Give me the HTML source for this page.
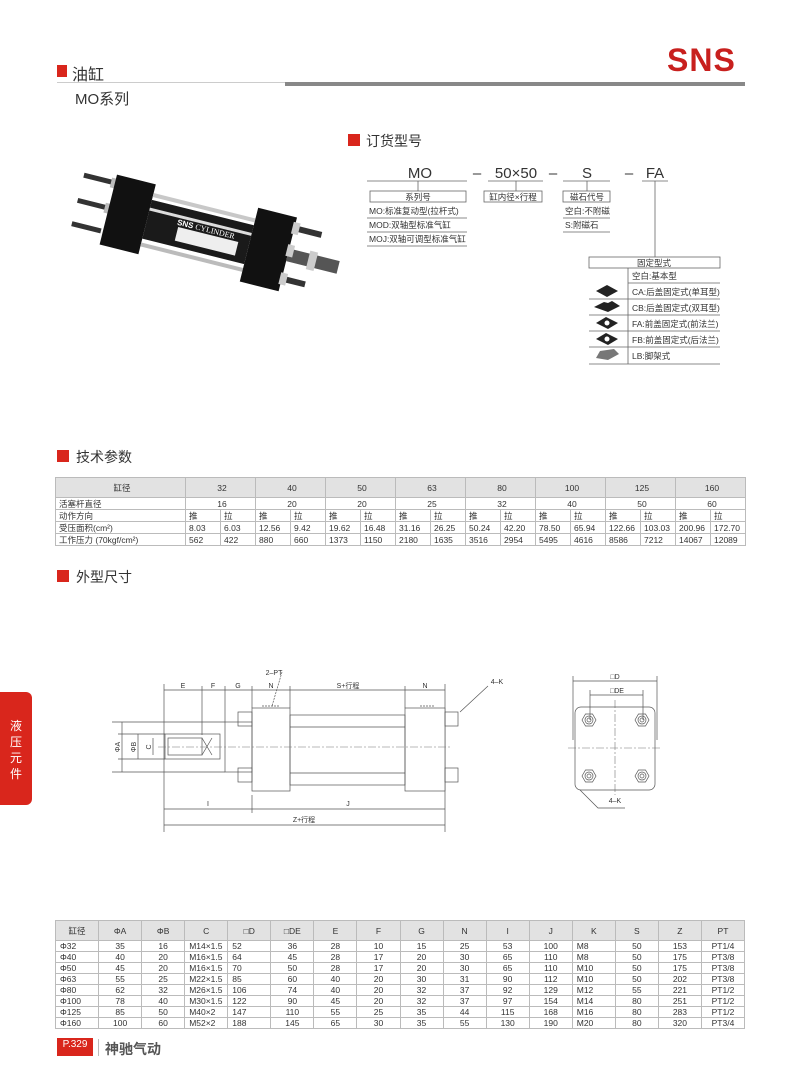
<!DOCTYPE html>
<html><head><meta charset="utf-8"><style>
*{margin:0;padding:0;box-sizing:border-box}
body{width:800px;height:1086px;background:#fff;position:relative;overflow:hidden;font-family:"Liberation Sans","Noto Sans CJK SC",sans-serif;color:#333}
.a{position:absolute;white-space:nowrap}
table{border-collapse:collapse;table-layout:fixed;position:absolute;font-size:8.5px;color:#333}
td{border:1px solid #bbb;padding:0 0 0 3px;line-height:10px;white-space:nowrap;overflow:hidden}
.t1 td{height:12px}
.t2 td{height:11px;text-align:center;padding:0}
.t2 td.l{text-align:left;padding-left:4px}
.hd td{background:#e2e2e2;height:20px;text-align:center}
.c{text-align:center}
</style></head><body>

<div class="a" style="left:57px;top:65px;width:10px;height:12px;background:#d9261c"></div>
<div class="a" style="left:72px;top:61px;font-size:16px;color:#333">油缸</div>
<div class="a" style="left:57px;top:82px;width:230px;height:1px;background:#ccc"></div>
<div class="a" style="left:285px;top:82px;width:460px;height:4px;background:#888"></div>
<div class="a" style="left:75px;top:88px;font-size:15px;color:#333">MO系列</div>
<div class="a" style="left:667px;top:42px;font-size:32px;font-weight:bold;color:#c8201e;letter-spacing:1px">SNS</div>

<div class="a" style="left:0;top:692px;width:32px;height:113px;background:#d9261c;border-radius:0 6px 6px 0"></div>
<div class="a" style="left:8px;top:718px;width:16px;font-size:12px;line-height:16px;color:#fff;white-space:normal;text-align:center">液压元件</div>

<div class="a" style="left:348px;top:134px;width:12px;height:12px;background:#d9261c"></div>
<div class="a" style="left:366px;top:131px;font-size:14px">订货型号</div>
<div class="a" style="left:57px;top:450px;width:12px;height:12px;background:#d9261c"></div>
<div class="a" style="left:76px;top:447px;font-size:14px">技术参数</div>
<div class="a" style="left:57px;top:570px;width:12px;height:12px;background:#d9261c"></div>
<div class="a" style="left:76px;top:567px;font-size:14px">外型尺寸</div>

<svg class="a" style="left:0;top:0" width="800" height="1086" viewBox="0 0 800 1086" font-family="Liberation Sans, Noto Sans CJK SC, sans-serif">
<g fill="#333" font-size="15" text-anchor="middle">
<text x="420" y="178">MO</text><text x="477" y="178">–</text>
<text x="516" y="178">50×50</text><text x="553" y="178">–</text>
<text x="587" y="178">S</text><text x="629" y="178">–</text>
<text x="655" y="178">FA</text></g>
<g stroke="#666" stroke-width="0.8" fill="none">
<path d="M367 181H467M488 181H543M563 181H610M642 181H668"/>
<path d="M418 181V191M516 181V191M587 181V191M655 181V257"/>
<rect x="370" y="191" width="96" height="11"/><rect x="484" y="191" width="58" height="11"/><rect x="563" y="191" width="47" height="11"/>
<path d="M367 218H467M367 232H467M367 246H467M563 218H610M563 232H610"/>
<rect x="589" y="257" width="131" height="11"/>
<path d="M628 268V364M628 283H720M589 299H720M589 315H720M589 331H720M589 347H720M589 364H720"/>
</g>
<g fill="#333" font-size="8.5">
<text x="418" y="200" text-anchor="middle">系列号</text>
<text x="513" y="200" text-anchor="middle">缸内径×行程</text>
<text x="587" y="200" text-anchor="middle">磁石代号</text>
<text x="369" y="214">MO:标准复动型(拉杆式)</text>
<text x="369" y="228">MOD:双轴型标准气缸</text>
<text x="369" y="242">MOJ:双轴可调型标准气缸</text>
<text x="565" y="214">空白:不附磁</text>
<text x="565" y="228">S:附磁石</text>
<text x="654" y="266" text-anchor="middle">固定型式</text>
<text x="632" y="279">空白:基本型</text>
<text x="632" y="295">CA:后盖固定式(单耳型)</text>
<text x="632" y="311">CB:后盖固定式(双耳型)</text>
<text x="632" y="327">FA:前盖固定式(前法兰)</text>
<text x="632" y="343">FB:前盖固定式(后法兰)</text>
<text x="632" y="359">LB:脚架式</text>
</g>
<g fill="#222">
<path d="M596 291L607 285L618 291L607 297Z"/>
<path d="M594 307L604 302L608 303L612 301L620 306L608 312Z"/>
<path d="M596 323L606 317L618 323L608 329Z"/><circle cx="607" cy="323" r="2.5" fill="#fff"/>
<path d="M596 339L606 333L618 339L608 345Z"/><circle cx="607" cy="339" r="2.5" fill="#fff"/>
<path d="M596 358L600 351L614 349L619 354L608 360Z" fill="#777"/>
</g>

<!-- photo -->
<g transform="translate(118,212) rotate(14)">
<rect x="-42" y="-30" width="30" height="5" fill="#333"/><rect x="-42" y="-4" width="30" height="5" fill="#333"/><rect x="-42" y="20" width="30" height="5" fill="#333"/>
<rect x="-14" y="-32" width="6" height="10" fill="#bbb"/><rect x="-14" y="-6" width="6" height="10" fill="#bbb"/>
<rect x="-10" y="-36" width="40" height="72" fill="#111"/>
<rect x="30" y="-20" width="105" height="40" fill="#1a1a1a"/>
<rect x="30" y="-27" width="105" height="4" fill="#c8c8c8"/><rect x="30" y="-12" width="105" height="3" fill="#ddd"/>
<rect x="30" y="24" width="105" height="4" fill="#bbb"/>
<rect x="62" y="0" width="62" height="14" fill="#eee"/>
<text x="60" y="-2" fill="#fff" font-size="8" font-weight="bold">SNS <tspan font-family="Liberation Serif" font-weight="normal">CYLINDER</tspan></text>
<rect x="135" y="-38" width="40" height="76" fill="#111"/>
<rect x="175" y="-30" width="28" height="6" fill="#333"/><rect x="175" y="22" width="24" height="6" fill="#333"/>
<rect x="175" y="-6" width="52" height="13" fill="#555"/><rect x="196" y="-9" width="8" height="19" fill="#ccc"/>
<rect x="173" y="-33" width="7" height="12" fill="#ccc"/><rect x="173" y="-10" width="7" height="12" fill="#ccc"/><rect x="173" y="19" width="7" height="12" fill="#ccc"/>
</g>

<!-- side drawing -->
<g stroke="#555" stroke-width="0.7" fill="none">
<path d="M164 684V832M445 684V832M202 686V735M225 686V722M252 686V708M290 686V708M405 686V708"/>
<path d="M164 690H445M164 809H445M164 825H445"/>
<path d="M252 795V813"/>
<rect x="252" y="708" width="38" height="83" fill="#fff"/>
<rect x="405" y="708" width="40" height="83" fill="#fff"/>
<rect x="290" y="715" width="115" height="70"/>
<path d="M290 727H405M290 773H405"/>
<rect x="225" y="722" width="27" height="50"/>
<rect x="165" y="734" width="55" height="25"/>
<rect x="168" y="738" width="34" height="17"/>
<path d="M202 738L212 755M212 738L202 755"/>
<rect x="238" y="712" width="14" height="14"/><rect x="238" y="768" width="14" height="14"/>
<rect x="445" y="712" width="13" height="14"/><rect x="445" y="768" width="13" height="14"/>
<path d="M112 722H225M112 772H225M118 734H165M118 759H165"/>
<path d="M122 722V772M138 734V759M153 738V755"/>
<path d="M282 672L272 706M420 706H435M262 706H280" stroke-dasharray="2 1"/>
<path d="M488 686L460 712"/>
<path d="M580 790L598 808H625"/>
</g>
<path d="M158 747H452M615 700V795M568 748H662" stroke="#777" stroke-width="0.6" stroke-dasharray="8 2 2 2" fill="none"/>
<g fill="#333" font-size="7" text-anchor="middle">
<text x="183" y="688">E</text><text x="213" y="688">F</text><text x="238" y="688">G</text>
<text x="271" y="688">N</text><text x="348" y="688">S+行程</text><text x="425" y="688">N</text>
<text x="274" y="675">2–PT</text><text x="497" y="684">4–K</text>
<text x="208" y="806">I</text><text x="348" y="806">J</text><text x="304" y="822">Z+行程</text>
<text x="615" y="803">4–K</text><text x="615" y="679">□D</text><text x="617" y="693">□DE</text>
<text transform="translate(120,747) rotate(-90)">ΦA</text>
<text transform="translate(136,747) rotate(-90)">ΦB</text>
<text transform="translate(151,747) rotate(-90)">C</text>
</g>
<g stroke="#555" stroke-width="0.7" fill="none">
<path d="M573 676V740M657 676V740M590 690V720M643 690V720M573 681H657M590 695H643"/>
<rect x="575" y="707" width="80" height="83" rx="6"/>
<g id="b"><path d="M582 720l3.5-6h7l3.5 6-3.5 6h-7z"/><circle cx="589" cy="720" r="4"/><circle cx="589" cy="720" r="2"/></g>
<use href="#b" x="53"/><use href="#b" y="56"/><use href="#b" x="53" y="56"/>
</g>
</svg>

<table class="t1" style="left:55px;top:477px;width:690px">
<colgroup><col style="width:130px"><col span="16" style="width:35px"></colgroup>
<tr class="hd"><td>缸径</td><td colspan="2">32</td><td colspan="2">40</td><td colspan="2">50</td><td colspan="2">63</td><td colspan="2">80</td><td colspan="2">100</td><td colspan="2">125</td><td colspan="2">160</td></tr>
<tr><td>活塞杆直径</td><td colspan="2" class="c">16</td><td colspan="2" class="c">20</td><td colspan="2" class="c">20</td><td colspan="2" class="c">25</td><td colspan="2" class="c">32</td><td colspan="2" class="c">40</td><td colspan="2" class="c">50</td><td colspan="2" class="c">60</td></tr>
<tr><td>动作方向</td><td>推</td><td>拉</td><td>推</td><td>拉</td><td>推</td><td>拉</td><td>推</td><td>拉</td><td>推</td><td>拉</td><td>推</td><td>拉</td><td>推</td><td>拉</td><td>推</td><td>拉</td></tr>
<tr><td>受压面积(cm²)</td><td>8.03</td><td>6.03</td><td>12.56</td><td>9.42</td><td>19.62</td><td>16.48</td><td>31.16</td><td>26.25</td><td>50.24</td><td>42.20</td><td>78.50</td><td>65.94</td><td>122.66</td><td>103.03</td><td>200.96</td><td>172.70</td></tr>
<tr><td>工作压力 (70kgf/cm²)</td><td>562</td><td>422</td><td>880</td><td>660</td><td>1373</td><td>1150</td><td>2180</td><td>1635</td><td>3516</td><td>2954</td><td>5495</td><td>4616</td><td>8586</td><td>7212</td><td>14067</td><td>12089</td></tr>
</table>

<table class="t2" style="left:55px;top:920px;width:690px">
<tr class="hd"><td>缸径</td><td>ΦA</td><td>ΦB</td><td>C</td><td>□D</td><td>□DE</td><td>E</td><td>F</td><td>G</td><td>N</td><td>I</td><td>J</td><td>K</td><td>S</td><td>Z</td><td>PT</td></tr>
<tr><td class="l">Φ32</td><td>35</td><td>16</td><td class="l">M14×1.5</td><td class="l">52</td><td>36</td><td>28</td><td>10</td><td>15</td><td>25</td><td>53</td><td>100</td><td class="l">M8</td><td>50</td><td>153</td><td>PT1/4</td></tr>
<tr><td class="l">Φ40</td><td>40</td><td>20</td><td class="l">M16×1.5</td><td class="l">64</td><td>45</td><td>28</td><td>17</td><td>20</td><td>30</td><td>65</td><td>110</td><td class="l">M8</td><td>50</td><td>175</td><td>PT3/8</td></tr>
<tr><td class="l">Φ50</td><td>45</td><td>20</td><td class="l">M16×1.5</td><td class="l">70</td><td>50</td><td>28</td><td>17</td><td>20</td><td>30</td><td>65</td><td>110</td><td class="l">M10</td><td>50</td><td>175</td><td>PT3/8</td></tr>
<tr><td class="l">Φ63</td><td>55</td><td>25</td><td class="l">M22×1.5</td><td class="l">85</td><td>60</td><td>40</td><td>20</td><td>30</td><td>31</td><td>90</td><td>112</td><td class="l">M10</td><td>50</td><td>202</td><td>PT3/8</td></tr>
<tr><td class="l">Φ80</td><td>62</td><td>32</td><td class="l">M26×1.5</td><td class="l">106</td><td>74</td><td>40</td><td>20</td><td>32</td><td>37</td><td>92</td><td>129</td><td class="l">M12</td><td>55</td><td>221</td><td>PT1/2</td></tr>
<tr><td class="l">Φ100</td><td>78</td><td>40</td><td class="l">M30×1.5</td><td class="l">122</td><td>90</td><td>45</td><td>20</td><td>32</td><td>37</td><td>97</td><td>154</td><td class="l">M14</td><td>80</td><td>251</td><td>PT1/2</td></tr>
<tr><td class="l">Φ125</td><td>85</td><td>50</td><td class="l">M40×2</td><td class="l">147</td><td>110</td><td>55</td><td>25</td><td>35</td><td>44</td><td>115</td><td>168</td><td class="l">M16</td><td>80</td><td>283</td><td>PT1/2</td></tr>
<tr><td class="l">Φ160</td><td>100</td><td>60</td><td class="l">M52×2</td><td class="l">188</td><td>145</td><td>65</td><td>30</td><td>35</td><td>55</td><td>130</td><td>190</td><td class="l">M20</td><td>80</td><td>320</td><td>PT3/4</td></tr>
</table>

<div class="a" style="left:57px;top:1038px;width:36px;height:18px;background:#d9261c;color:#fff;font-size:10px;text-align:center;line-height:14px">P.329</div>
<div class="a" style="left:98px;top:1039px;width:1px;height:17px;background:#bbb"></div>
<div class="a" style="left:105px;top:1039px;font-size:14px;color:#555;font-weight:bold">神驰气动</div>
</body></html>
